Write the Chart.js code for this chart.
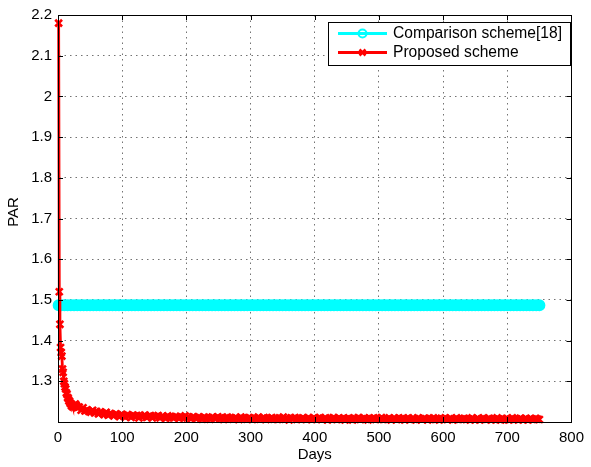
<!DOCTYPE html>
<html>
<head>
<meta charset="utf-8">
<script src="https://cdn.jsdelivr.net/npm/chart.js@4.4.1/dist/chart.umd.min.js"></script>
<style>
  html, body { margin:0; padding:0; background:#fff; }
  #chart { display:block; }
</style>
</head>
<body>
<canvas id="chart" width="591" height="467"></canvas>
<script>
// PAR over days, two schemes
var xTicks = [0,100,200,300,400,500,600,700,800];
var yTicks = [1.3,1.4,1.5,1.6,1.7,1.8,1.9,2.0,2.1,2.2];

var comparisonLabel = 'Comparison scheme[18]';
var comparisonDays = [1,5,10,15,20,25,30,35,40,45,50,55,60,65,70,75,80,85,90,95,100,
  105,110,115,120,125,130,135,140,145,150,155,160,165,170,175,180,185,190,195,200,
  205,210,215,220,225,230,235,240,245,250,255,260,265,270,275,280,285,290,295,300,
  305,310,315,320,325,330,335,340,345,350,355,360,365,370,375,380,385,390,395,400,
  405,410,415,420,425,430,435,440,445,450,455,460,465,470,475,480,485,490,495,500,
  505,510,515,520,525,530,535,540,545,550,555,560,565,570,575,580,585,590,595,600,
  605,610,615,620,625,630,635,640,645,650,655,660,665,670,675,680,685,690,695,700,
  705,710,715,720,725,730,735,740,745,750];
var comparisonPar = [1.487,1.487,1.487,1.487,1.487,1.487,1.487,1.487,1.487,1.487,1.487,1.487,1.487,1.487,1.487,1.487,1.487,1.487,1.487,1.487,1.487,
  1.487,1.487,1.487,1.487,1.487,1.487,1.487,1.487,1.487,1.487,1.487,1.487,1.487,1.487,1.487,1.487,1.487,1.487,1.487,1.487,
  1.487,1.487,1.487,1.487,1.487,1.487,1.487,1.487,1.487,1.487,1.487,1.487,1.487,1.487,1.487,1.487,1.487,1.487,1.487,1.487,
  1.487,1.487,1.487,1.487,1.487,1.487,1.487,1.487,1.487,1.487,1.487,1.487,1.487,1.487,1.487,1.487,1.487,1.487,1.487,1.487,
  1.487,1.487,1.487,1.487,1.487,1.487,1.487,1.487,1.487,1.487,1.487,1.487,1.487,1.487,1.487,1.487,1.487,1.487,1.487,1.487,
  1.487,1.487,1.487,1.487,1.487,1.487,1.487,1.487,1.487,1.487,1.487,1.487,1.487,1.487,1.487,1.487,1.487,1.487,1.487,1.487,
  1.487,1.487,1.487,1.487,1.487,1.487,1.487,1.487,1.487,1.487,1.487,1.487,1.487,1.487,1.487,1.487,1.487,1.487,1.487,1.487,
  1.487,1.487,1.487,1.487,1.487,1.487,1.487,1.487,1.487,1.487];

var proposedLabel = 'Proposed scheme';
var proposedDays = [1,2,3,4,5,6,7,8,9,10,11,12,13,14,15,16,17,18,19,20,21,22,23,24,25,26,27,28,29,30,
  33,36,39,42,45,48,51,54,57,60,63,66,69,72,75,78,81,84,87,90,
  93,96,99,102,105,108,111,114,117,120,123,126,129,132,135,138,141,144,147,150,
  153,156,159,162,165,168,171,174,177,180,183,186,189,192,195,198,201,204,207,210,
  213,216,219,222,225,228,231,234,237,240,243,246,249,252,255,258,261,264,267,270,
  273,276,279,282,285,288,291,294,297,300,303,306,309,312,315,318,321,324,327,330,
  333,336,339,342,345,348,351,354,357,360,363,366,369,372,375,378,381,384,387,390,
  393,396,399,402,405,408,411,414,417,420,423,426,429,432,435,438,441,444,447,450,
  453,456,459,462,465,468,471,474,477,480,483,486,489,492,495,498,501,504,507,510,
  513,516,519,522,525,528,531,534,537,540,543,546,549,552,555,558,561,564,567,570,
  573,576,579,582,585,588,591,594,597,600,603,606,609,612,615,618,621,624,627,630,
  633,636,639,642,645,648,651,654,657,660,663,666,669,672,675,678,681,684,687,690,
  693,696,699,702,705,708,711,714,717,720,723,726,729,732,735,738,741,744,747,750];
var proposedPar = [2.18,1.52,1.44,1.383,1.371,1.362,1.33,1.322,1.30,1.294,1.286,1.281,1.272,1.268,1.260,1.258,1.252,1.251,1.246,1.245,1.240,1.242,1.237,1.240,1.238,1.242,1.244,1.241,1.239,1.235,
  1.237,1.229,1.235,1.227,1.230,1.226,1.224,1.229,1.222,1.226,1.220,1.225,1.222,1.218,1.224,1.217,1.221,1.219,1.215,1.220,
  1.217,1.213,1.219,1.215,1.212,1.218,1.216,1.211,1.217,1.214,1.216,1.210,1.215,1.213,1.217,1.211,1.214,1.216,1.210,1.214,
  1.213,1.216,1.210,1.214,1.212,1.209,1.215,1.211,1.213,1.210,1.214,1.212,1.209,1.213,1.211,1.215,1.210,1.212,1.208,1.213,
  1.211,1.208,1.213,1.210,1.207,1.212,1.209,1.211,1.207,1.212,1.210,1.208,1.213,1.209,1.211,1.206,1.210,1.212,1.208,1.210,
  1.207,1.211,1.209,1.206,1.212,1.208,1.210,1.207,1.211,1.209,1.206,1.210,1.208,1.212,1.207,1.209,1.211,1.206,1.209,1.208,
  1.211,1.207,1.209,1.206,1.210,1.208,1.212,1.207,1.209,1.205,1.210,1.208,1.211,1.206,1.209,1.207,1.210,1.208,1.206,1.211,
  1.208,1.206,1.210,1.207,1.209,1.211,1.206,1.208,1.210,1.205,1.209,1.207,1.211,1.208,1.206,1.210,1.207,1.209,1.205,1.208,
  1.210,1.207,1.205,1.209,1.208,1.211,1.206,1.208,1.210,1.207,1.205,1.209,1.208,1.210,1.206,1.209,1.207,1.211,1.206,1.208,
  1.207,1.210,1.205,1.208,1.209,1.206,1.210,1.207,1.209,1.205,1.208,1.210,1.206,1.209,1.207,1.205,1.210,1.208,1.206,1.209,
  1.208,1.205,1.209,1.207,1.210,1.206,1.208,1.205,1.209,1.207,1.210,1.206,1.208,1.209,1.205,1.207,1.210,1.206,1.208,1.207,
  1.209,1.206,1.208,1.205,1.210,1.207,1.206,1.209,1.205,1.208,1.210,1.206,1.207,1.209,1.205,1.208,1.206,1.210,1.207,1.205,
  1.208,1.206,1.209,1.205,1.207,1.210,1.206,1.208,1.205,1.209,1.207,1.206,1.209,1.205,1.208,1.207,1.206,1.209,1.207,1.206];

var FAMILY = '"Liberation Sans", Arial, sans-serif';

function toPoints(xs, ys){
  return xs.map(function(x, i){ return { x: x, y: ys[i] }; });
}

// box, inward ticks, axis titles and legend (matlab look)
var matlabFrame = {
  id: 'matlabFrame',
  afterDraw: function(chart){
    var ctx = chart.ctx, a = chart.chartArea;
    var xs = chart.scales.x, ys = chart.scales.y;
    ctx.save();
    ctx.strokeStyle = '#000';
    ctx.lineWidth = 1;
    ctx.beginPath();
    xTicks.forEach(function(v){
      var px = Math.round(xs.getPixelForValue(v)) + 0.5;
      ctx.moveTo(px, a.bottom); ctx.lineTo(px, a.bottom - 5);
      ctx.moveTo(px, a.top); ctx.lineTo(px, a.top + 5);
    });
    yTicks.forEach(function(v){
      var py = Math.round(ys.getPixelForValue(v)) + 0.5;
      ctx.moveTo(a.left, py); ctx.lineTo(a.left + 5, py);
      ctx.moveTo(a.right, py); ctx.lineTo(a.right - 5, py);
    });
    ctx.stroke();
    ctx.strokeRect(Math.round(a.left) + 0.5, Math.round(a.top) + 0.5,
                   Math.round(a.right - a.left), Math.round(a.bottom - a.top));

    // axis titles
    ctx.fillStyle = '#000';
    ctx.font = '15px ' + FAMILY;
    ctx.textAlign = 'center';
    ctx.textBaseline = 'middle';
    ctx.fillText('Days', (a.left + a.right) / 2, 455);
    ctx.save();
    ctx.translate(14, 212);
    ctx.rotate(-Math.PI / 2);
    ctx.fillText('PAR', 0, 0);
    ctx.restore();

    // legend box
    var lx = 328, ly = 22, lw = 242, lh = 43;
    ctx.fillStyle = '#fff';
    ctx.fillRect(lx, ly, lw, lh);
    ctx.strokeRect(lx + 0.5, ly + 0.5, lw, lh);
    ctx.font = '15.6px ' + FAMILY;
    var rows = [33.5, 52.5];
    chart.data.datasets.forEach(function(ds, i){
      var y = rows[i];
      ctx.strokeStyle = ds.borderColor;
      ctx.lineWidth = 3;
      ctx.beginPath(); ctx.moveTo(338, y); ctx.lineTo(387, y); ctx.stroke();
      if (ds.pointStyle === 'circle') {
        ctx.lineWidth = 2;
        ctx.beginPath(); ctx.arc(362.5, y, 4, 0, Math.PI * 2); ctx.stroke();
      } else {
        ctx.lineWidth = 2.5;
        ctx.beginPath();
        ctx.moveTo(359.5, y - 3); ctx.lineTo(365.5, y + 3);
        ctx.moveTo(359.5, y + 3); ctx.lineTo(365.5, y - 3);
        ctx.stroke();
      }
      ctx.fillStyle = '#000';
      ctx.textAlign = 'left';
      ctx.fillText(ds.label, 393, y + 0.5);
    });
    ctx.restore();
  }
};

new Chart(document.getElementById('chart').getContext('2d'), {
  type: 'line',
  data: {
    datasets: [
      {
        label: comparisonLabel,
        data: toPoints(comparisonDays, comparisonPar),
        borderColor: '#00ffff',
        backgroundColor: '#00ffff',
        borderWidth: 3,
        pointStyle: 'circle',
        pointRadius: 5,
        pointBorderWidth: 2,
        pointBackgroundColor: '#00ffff',
        clip: false,
        order: 1
      },
      {
        label: proposedLabel,
        data: toPoints(proposedDays, proposedPar),
        borderColor: '#ff0000',
        backgroundColor: '#ff0000',
        borderWidth: 2.8,
        pointStyle: 'crossRot',
        pointRadius: 4.8,
        pointBorderWidth: 2.6,
        clip: false,
        order: 0
      }
    ]
  },
  options: {
    responsive: false,
    animation: false,
    devicePixelRatio: 1,
    layout: { padding: { left: 0, top: 13, right: 15, bottom: 0 } },
    plugins: { legend: { display: false }, tooltip: { enabled: false } },
    scales: {
      x: {
        type: 'linear', min: 0, max: 800,
        afterBuildTicks: function(s){ s.ticks = xTicks.map(function(v){ return { value: v }; }); },
        afterFit: function(s){ s.height = 45; },
        grid: { color: 'rgba(0,0,0,0.55)', lineWidth: 1, drawTicks: false },
        border: { display: true, color: '#000', width: 1, dash: [1.5, 4] },
        ticks: { color: '#000', font: { family: FAMILY, size: 15 }, padding: 7, maxRotation: 0 }
      },
      y: {
        type: 'linear', min: 1.2, max: 2.2,
        afterBuildTicks: function(s){ s.ticks = yTicks.map(function(v){ return { value: v }; }); },
        afterFit: function(s){ s.width = 58; },
        grid: { color: 'rgba(0,0,0,0.55)', lineWidth: 1, drawTicks: false },
        border: { display: true, color: '#000', width: 1, dash: [1.5, 4] },
        ticks: { color: '#000', font: { family: FAMILY, size: 15 }, padding: 6,
          callback: function(v){ return String(Math.round(v * 10) / 10); } }
      }
    }
  },
  plugins: [matlabFrame]
});
</script>
</body>
</html>
